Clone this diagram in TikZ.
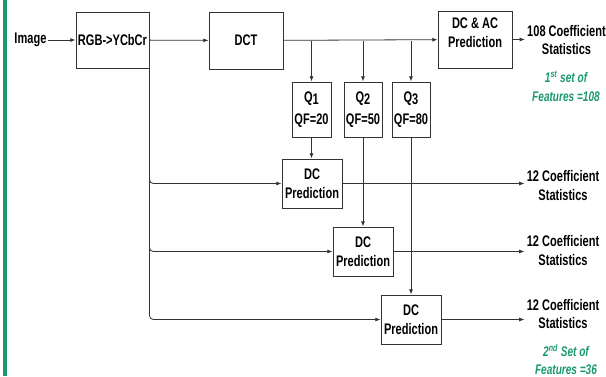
\documentclass[tikz,border=0pt]{standalone}
\usepackage{fontspec}
\setmainfont{Liberation Sans}[FakeStretch=0.72]
\usetikzlibrary{arrows.meta}
\definecolor{featgreen}{HTML}{1A9A6C}
\newcommand{\Qsub}[1]{Q\raisebox{-0.35ex}{#1}}

\begin{document}
\begin{tikzpicture}[x=0.75pt, y=-0.75pt,
	every node/.style={font=\bfseries\fontsize{11.5}{14}\selectfont},
	blk/.style={draw=black!80, line width=0.6pt, inner sep=0pt, align=center},
	conn/.style={draw=black!80, line width=0.6pt, -{Latex[length=4pt,width=3pt]}},
	stat/.style={align=center, inner sep=1.5pt},
	feat/.style={align=center, text=featgreen,
		font=\bfseries\itshape\fontsize{10.5}{14}\selectfont}]
	\useasboundingbox (0,0) rectangle (606,376);
	\fill[featgreen] (2.5,0) rectangle (6.5,376);
	% top row
	\node[anchor=east, inner sep=1pt] (img) at (48,40) {Image};
	\node[blk, minimum width=54.75pt, minimum height=42pt] (rgb) at (112.5,40) {RGB->YCbCr};
	\node[blk, minimum width=55.5pt, minimum height=42.75pt] (dct) at (246,40.5) {DCT};
	\node[blk, minimum width=55.5pt, minimum height=42.75pt, text depth=10pt] (dcac) at (475,39.5)
	{DC \& AC\\Prediction};
	\node[stat] (st0) at (566.5,40) {108 Coefficient\\Statistics};
	\node[feat] (ft1) at (566,86.5) {1\textsuperscript{st} set of\\Features =108};
	% quantisers
	\node[blk, minimum width=29.25pt, minimum height=41.25pt] (q1) at (311.5,109.5) {\Qsub{1}\\[3pt]QF=20};
	\node[blk, minimum width=28.5pt, minimum height=41.25pt] (q2) at (363,109.5) {\Qsub{2}\\[3pt]QF=50};
	\node[blk, minimum width=28.5pt, minimum height=41.25pt] (q3) at (411,109.5) {\Qsub{3}\\[3pt]QF=80};
	% DC prediction
	\node[blk, minimum width=45pt, minimum height=36.75pt] (dc1) at (312,183.5) {DC\\Prediction};
	\node[blk, minimum width=45pt, minimum height=36.75pt] (dc2) at (363,251.5) {DC\\Prediction};
	\node[blk, minimum width=45pt, minimum height=36.75pt] (dc3) at (411,319.5) {DC\\Prediction};
	\node[stat] (st1) at (563,185.5) {12 Coefficient\\Statistics};
	\node[stat] (st2) at (563,250.5) {12 Coefficient\\Statistics};
	\node[stat] (st3) at (563,314) {12 Coefficient\\Statistics};
	\node[feat] (ft2) at (566,359.5) {2\textsuperscript{nd} Set of\\Features =36};
	% connectors
	\draw[conn] (img) -- (rgb);
	\draw[conn] (rgb) -- (dct);
	\draw[conn] (dct) -- (dcac);
	\draw[conn] (dcac) -- (dcac.east -| st0.west);
	\foreach \q in {q1,q2,q3}
		\draw[conn] (\q.north |- dct.east) -- (\q.north);
	\foreach \q/\d in {q1/dc1,q2/dc2,q3/dc3}
		\draw[conn] (\q.south) -- (\q.south |- \d.north);
	\foreach \d in {dc1,dc2,dc3}
		\draw[conn, rounded corners=3pt] (rgb.south east) |- (\d.west);
	\foreach \d/\s in {dc1/st1,dc2/st2,dc3/st3}
		\draw[conn] (\d.east) -- (\d.east -| \s.west);
\end{tikzpicture}
\end{document}
